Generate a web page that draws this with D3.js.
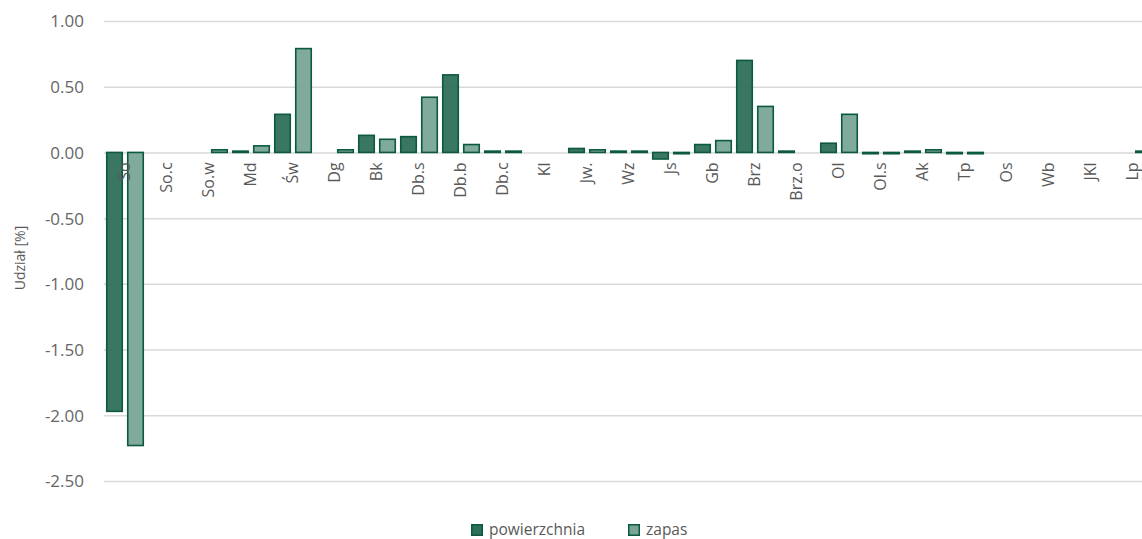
<!DOCTYPE html>
<html>
<head>
<meta charset="utf-8">
<script src="https://cdn.jsdelivr.net/npm/d3@7"></script>
<style>
  html, body { margin: 0; padding: 0; background: #fff; }
  svg { display: block; }
  text { font-family: "Open Sans", "Noto Sans", sans-serif; }
</style>
</head>
<body>
<svg id="chart" width="1142" height="539"></svg>
<script>
// Species codes along the category axis
const categories = ["So", "So.c", "So.w", "Md", "Św", "Dg", "Bk", "Db.s", "Db.b", "Db.c",
  "Kl", "Jw.", "Wz", "Js", "Gb", "Brz", "Brz.o", "Ol", "Ol.s", "Ak", "Tp", "Os", "Wb", "JKl", "Lp"];

// Change of share [%]; null = no value for that species
const powierzchnia = [-1.97, null, null, 0.01, 0.29, null, 0.13, 0.12, 0.59, 0.01,
  null, 0.03, 0.01, -0.05, 0.06, 0.70, 0.01, 0.07, -0.01, 0.01, -0.01, null, null, null, null];
const zapas = [-2.23, null, 0.02, 0.05, 0.79, 0.02, 0.10, 0.42, 0.06, 0.01,
  null, 0.02, 0.01, -0.01, 0.09, 0.35, null, 0.29, -0.01, 0.02, -0.01, null, null, null, 0.01];

const seriesNames = ["powierzchnia", "zapas"];
const seriesValues = [powierzchnia, zapas];
const seriesFill = ["#2f705a", "#79a596"];
const seriesStroke = "#0b5a3f";

const yTicks = [1.0, 0.5, 0.0, -0.5, -1.0, -1.5, -2.0, -2.5];
const yTitle = "Udział [%]";

const svg = d3.select("#chart");
const W = 1142;

const x = d3.scaleBand().domain(categories).range([104, 1154]);
const xSub = d3.scaleBand().domain(seriesNames).range([0, x.bandwidth()])
  .paddingInner(0.19).paddingOuter(0.095);
const y = d3.scaleLinear().domain([-2.5, 1.0]).range([481, 21]);

// horizontal gridlines (incl. the zero line)
const grid = svg.append("g").attr("transform", "translate(104,0)")
  .call(d3.axisRight(y).tickValues(yTicks).tickSize(W - 104).tickFormat(""));
grid.select(".domain").remove();
grid.selectAll("line").attr("stroke", "#d9d9d9").attr("stroke-width", 1.5);

// y tick labels, plain hyphen as the minus sign
const fmt = d3.format(".2f");
const yAxis = svg.append("g").attr("transform", "translate(84,0)")
  .call(d3.axisLeft(y).tickValues(yTicks).tickSize(0).tickPadding(0)
    .tickFormat(d => fmt(d).replace("\u2212", "-")));
yAxis.select(".domain").remove();
yAxis.selectAll("text")
  .attr("font-family", "'Open Sans', sans-serif")
  .attr("font-size", 17).attr("fill", "#666666")
  .attr("dy", "0.35em");

// bars
seriesNames.forEach((name, si) => {
  const data = categories.map((c, i) => ({ c, v: seriesValues[si][i] })).filter(d => d.v !== null);
  svg.append("g").selectAll("rect").data(data).join("rect")
    .attr("x", d => x(d.c) + xSub(name) + 0.75)
    .attr("width", xSub.bandwidth() - 1.5)
    .attr("y", d => y(Math.max(0, d.v)))
    .attr("height", d => Math.abs(y(d.v) - y(0)))
    .attr("fill", seriesFill[si])
    .attr("fill-opacity", 0.95)
    .attr("stroke", seriesStroke)
    .attr("stroke-width", 1.6);
});

// category labels, rotated, hanging below the zero line
svg.append("g").selectAll("text").data(categories).join("text")
  .attr("transform", d => `translate(${x(d) + x.bandwidth() / 2 + 4.5},${y(0) + 10}) rotate(-90)`)
  .attr("text-anchor", "end")
  .attr("font-size", 16).attr("fill", "#595959")
  .text(d => d);

// y axis title
svg.append("text")
  .attr("transform", "translate(25,258) rotate(-90)")
  .attr("text-anchor", "middle")
  .attr("font-size", 14).attr("fill", "#595959")
  .text(yTitle);

// legend
const legendItems = [{ name: "powierzchnia", x: 471 }, { name: "zapas", x: 628 }];
const legend = svg.append("g");
legendItems.forEach((item, i) => {
  legend.append("rect")
    .attr("x", item.x + 0.75).attr("y", 524.75).attr("width", 10.5).attr("height", 10.5)
    .attr("fill", seriesFill[i]).attr("stroke", seriesStroke).attr("stroke-width", 1.5);
  legend.append("text")
    .attr("x", item.x + 18).attr("y", 535)
    .attr("font-size", 15.5).attr("fill", "#595959")
    .text(item.name);
});
</script>
</body>
</html>
